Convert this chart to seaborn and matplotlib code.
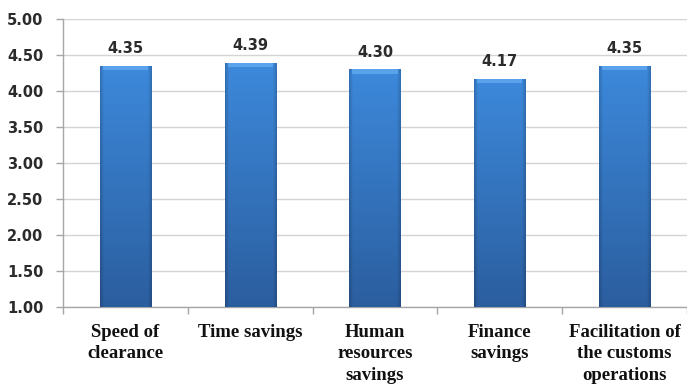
import numpy as np
import pandas as pd
import matplotlib
matplotlib.use("Agg")
import matplotlib.pyplot as plt
import seaborn as sns
from matplotlib.colors import to_rgb

categories = ["Speed of\nclearance", "Time savings", "Human\nresources\nsavings",
              "Finance\nsavings", "Facilitation of\nthe customs\noperations"]
scores = [4.35, 4.39, 4.30, 4.17, 4.35]
y_ticks = [1.00, 1.50, 2.00, 2.50, 3.00, 3.50, 4.00, 4.50, 5.00]

df = pd.DataFrame({"category": categories, "score": scores})

sns.set_theme(style="white")
fig = plt.figure(figsize=(6.87, 3.88), dpi=100)
ax = fig.add_axes([0.0917, 0.209, 0.9083, 0.742])

sns.barplot(data=df, x="category", y="score", color="#3577c4", width=0.41,
            ax=ax, zorder=3, linewidth=0)

ax.set_ylim(1.0, 5.0)
ax.set_xlim(-0.5, len(categories) - 0.5)
ax.set_yticks(y_ticks)
ax.set_yticklabels([f"{v:.2f}" for v in y_ticks], fontsize=10.5, fontweight="bold",
                   color="#2b2b2b", family="DejaVu Sans")
ax.yaxis.grid(True, color="#d4d4d4", linewidth=1.0, zorder=0)
ax.set_axisbelow(True)

# vertical shading on each bar, lighter at the top, darker towards the base,
# with slightly darker side edges
top_c = np.array(to_rgb("#3d89db"))
bot_c = np.array(to_rgb("#2b5e9f"))
ny, nx = 128, 64
ty = np.linspace(0, 1, ny)[:, None, None]
base = bot_c * (1 - ty) + top_c * ty
xs = np.linspace(0, 1, nx)
edge = np.clip(1 - np.minimum(xs, 1 - xs) / 0.07, 0, 1)
side = (1 - 0.18 * edge)[None, :, None]
rgb = np.clip(base * side, 0, 1)

for patch in ax.patches:
    x0, w = patch.get_x(), patch.get_width()
    h = patch.get_height()
    img = ax.imshow(rgb, extent=[x0, x0 + w, 1.0, h], aspect="auto",
                    origin="lower", zorder=4, interpolation="bilinear")
    img.set_clip_path(patch)
    # bevelled highlight along the top edge
    ax.fill_between([x0 + w * 0.06, x0 + w * 0.94], h - 0.06, h,
                    color="#5aa3ec", zorder=5, linewidth=0)

for i, v in enumerate(scores):
    ax.text(i, v + 0.135, f"{v:.2f}", ha="center", va="bottom", fontsize=10.5,
            fontweight="bold", color="#2b2b2b", family="DejaVu Sans", zorder=6)

ax.set_xlabel("")
ax.set_ylabel("")
ax.set_xticks(range(len(categories)))
ax.set_xticklabels(categories, fontsize=13.5, fontweight="bold",
                   family="Liberation Serif", color="#111111", linespacing=1.36)
ax.tick_params(axis="x", length=0, pad=12)
ax.tick_params(axis="y", length=5, color="#a6a6a6", left=True, pad=9, width=1)

# category boundary ticks on the x axis
ax.set_xticks(np.arange(-0.5, len(categories), 1.0), minor=True)
ax.tick_params(axis="x", which="minor", length=5, color="#a6a6a6", bottom=True,
               width=1)

for side_name in ["top", "right"]:
    ax.spines[side_name].set_visible(False)
for side_name in ["left", "bottom"]:
    ax.spines[side_name].set_color("#a6a6a6")
    ax.spines[side_name].set_linewidth(1.0)

fig.savefig("out.png", dpi=100)
